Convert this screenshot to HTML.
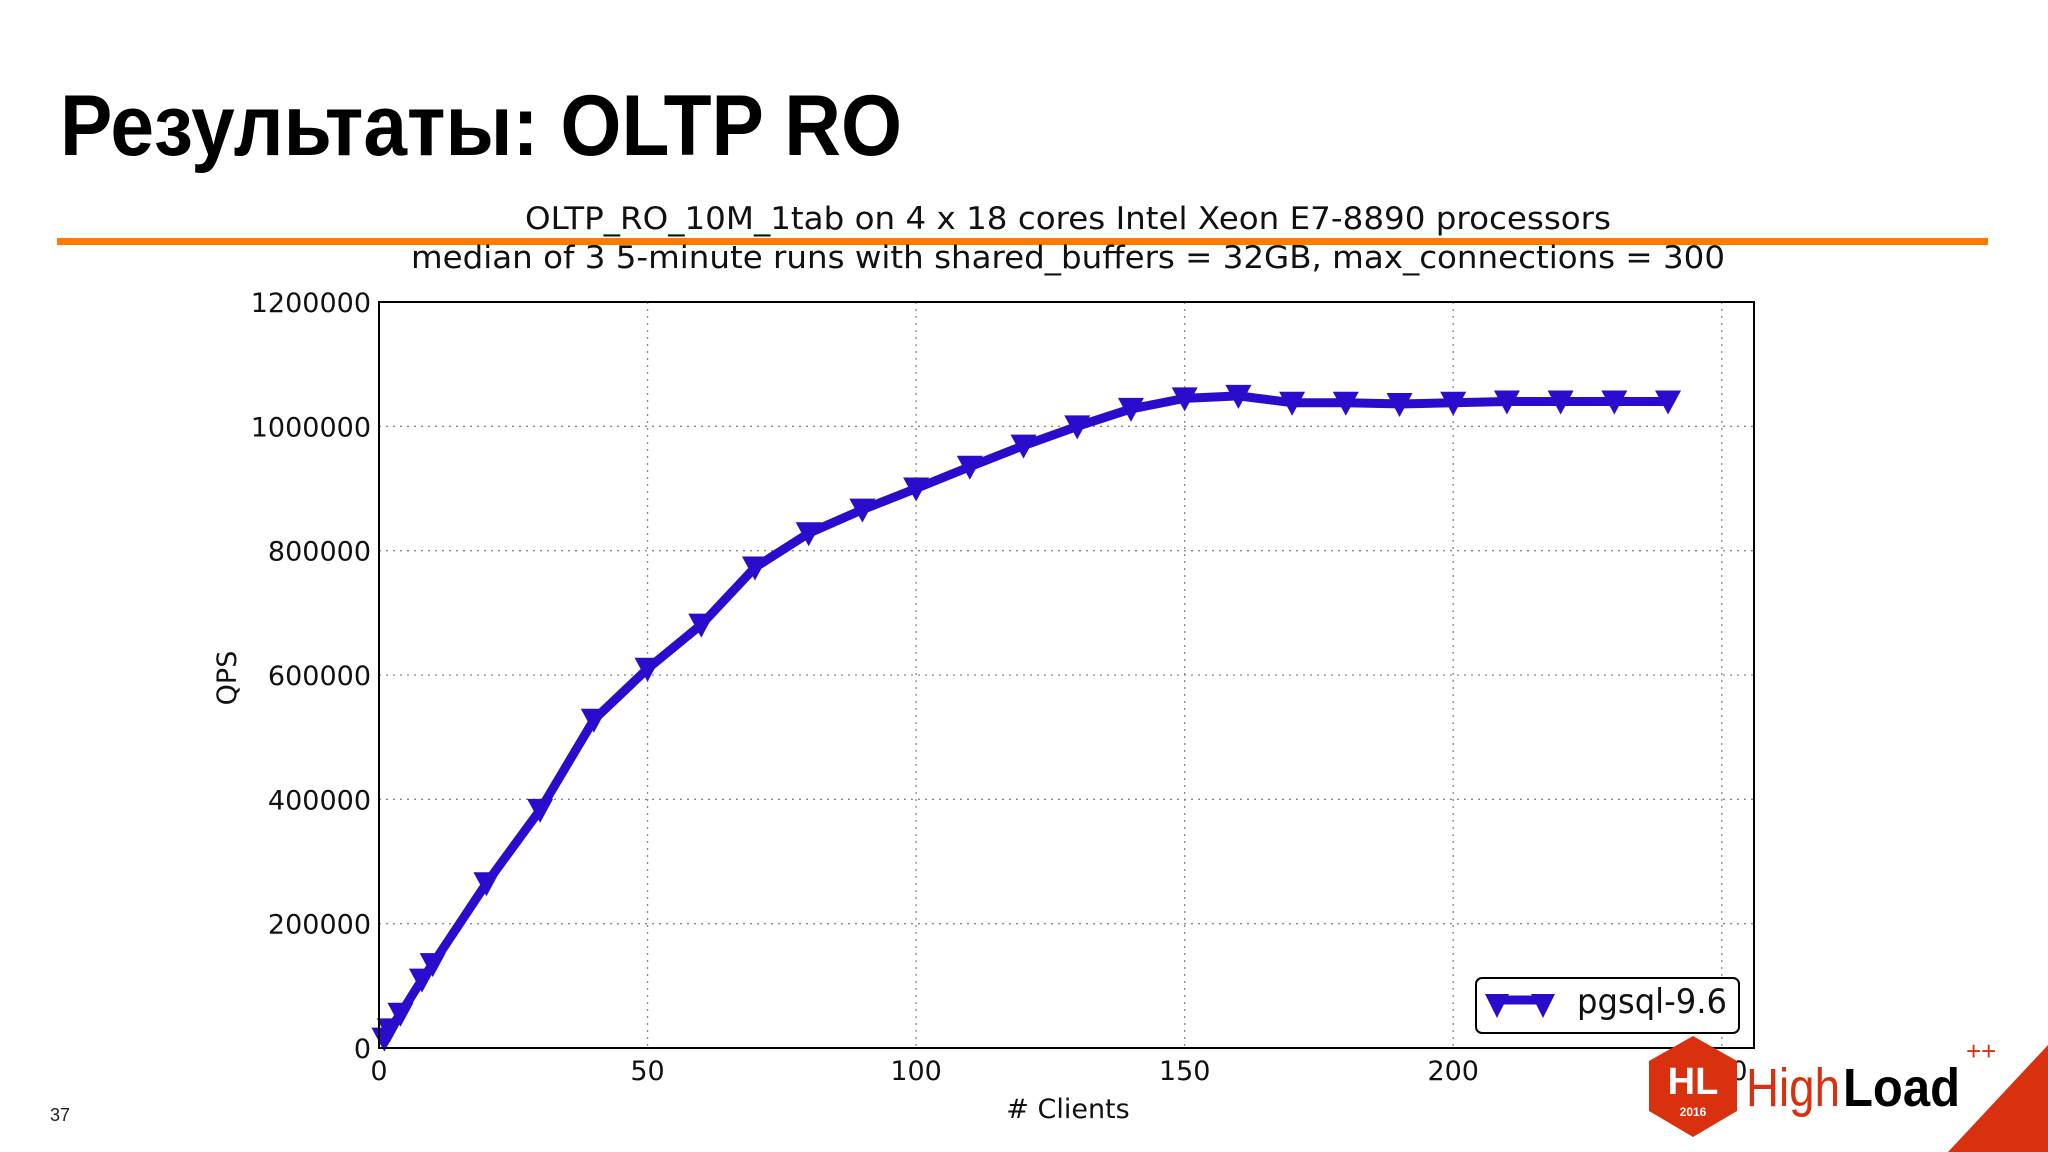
<!DOCTYPE html>
<html><head><meta charset="utf-8"><style>
html,body{margin:0;padding:0;background:#fff;}
svg{display:block;font-family:"Liberation Sans","DejaVu Sans",sans-serif;}
</style></head><body>
<svg id="chart" width="2048" height="1152" viewBox="0 0 2048 1152">
<text x="60" y="155" font-size="86" font-weight="bold" textLength="842" lengthAdjust="spacingAndGlyphs" fill="#000">Результаты: OLTP RO</text>
<rect x="57" y="238" width="1931" height="7" fill="#ff7b00"/>
<text x="1068" y="229" font-size="31" text-anchor="middle" fill="#111" font-family="DejaVu Sans, sans-serif" textLength="1086" lengthAdjust="spacingAndGlyphs">OLTP_RO_10M_1tab on 4 x 18 cores Intel Xeon E7-8890 processors</text>
<text x="1068" y="268" font-size="31" text-anchor="middle" fill="#111" font-family="DejaVu Sans, sans-serif" textLength="1314" lengthAdjust="spacingAndGlyphs">median of 3 5-minute runs with shared_buffers = 32GB, max_connections = 300</text>
<g id="grid"></g>
<g id="axes"></g>
<g id="series"></g>
<rect x="379" y="302" width="1375" height="746" fill="none" stroke="#000" stroke-width="2"/>
<text x="236" y="678" font-size="27" text-anchor="middle" fill="#111" font-family="DejaVu Sans, sans-serif" transform="rotate(-90 236 678)">QPS</text>
<text x="1068" y="1118" font-size="27" text-anchor="middle" fill="#111" font-family="DejaVu Sans, sans-serif"># Clients</text>
<g>
<rect x="1476" y="978" width="263" height="55" rx="6" fill="#fff" stroke="#000" stroke-width="2"/>
<line x1="1500" y1="1000" x2="1540" y2="1000" stroke="#2a0ccc" stroke-width="9"/>
<polygon points="1485,994 1509,994 1497,1018" fill="#2a0ccc"/>
<polygon points="1531,994 1555,994 1543,1018" fill="#2a0ccc"/>
<text x="1577" y="1013" font-size="34" fill="#111" font-family="DejaVu Sans, sans-serif" textLength="150" lengthAdjust="spacingAndGlyphs">pgsql-9.6</text>
</g>
<g>
<polygon points="1693,1036 1737,1061 1737,1111 1693,1137 1649,1111 1649,1061" fill="#d9300f"/>
<text x="1693" y="1094" font-size="38" font-weight="bold" fill="#fff" text-anchor="middle">HL</text>
<text x="1693" y="1116" font-size="12" font-weight="bold" fill="#fff" text-anchor="middle">2016</text>
<text x="1746" y="1106" font-size="54" fill="#d9300f" textLength="94" lengthAdjust="spacingAndGlyphs">High</text>
<text x="1843" y="1106" font-size="54" font-weight="bold" fill="#000" textLength="117" lengthAdjust="spacingAndGlyphs">Load</text>
<text x="1966" y="1060" font-size="26" fill="#d9300f">++</text>
</g>
<polygon points="1948,1152 2048,1045 2048,1152" fill="#d9300f"/>
<text x="50" y="1121" font-size="18" fill="#222">37</text>
</svg>
<script>
const clients = [1,2,4,8,10,20,30,40,50,60,70,80,90,100,110,120,130,140,150,160,170,180,190,200,210,220,230,240];
const qps = [15000,30000,55000,110000,135000,265000,383000,528000,610000,681000,773000,828000,866000,900000,935000,969000,1000000,1028000,1045000,1049000,1038000,1038000,1036000,1038000,1040000,1040000,1040000,1040000];
const xTicks = [0,50,100,150,200,250];
const yTicks = [0,200000,400000,600000,800000,1000000,1200000];
const NS = 'http://www.w3.org/2000/svg';
const X0=379, X1=1754, Y0=1048, Y1=302, XMAX=256, YMAX=1200000;
const sx = v => X0 + v/XMAX*(X1-X0);
const sy = v => Y0 - v/YMAX*(Y0-Y1);
function mk(tag, attrs, parent){const e=document.createElementNS(NS,tag);for(const k in attrs)e.setAttribute(k,attrs[k]);parent.appendChild(e);return e;}
const grid=document.getElementById('grid'), axes=document.getElementById('axes'), series=document.getElementById('series');
xTicks.forEach(t=>{
  const x=sx(t);
  const g=mk('line',{x1:x,x2:x,y1:Y1,y2:Y0,stroke:'#888','stroke-width':1.3,'stroke-dasharray':'2 5'},grid);
  
  
  const lb=mk('text',{x:x,y:1080,'font-size':27,'text-anchor':'middle',fill:'#111','font-family':'DejaVu Sans, sans-serif'},axes);
  lb.textContent=t;
  
  
});
yTicks.forEach(t=>{
  const y=sy(t);
  const g=mk('line',{x1:X0,x2:X1,y1:y,y2:y,stroke:'#888','stroke-width':1.3,'stroke-dasharray':'2 5'},grid);
  
  
  const lb=mk('text',{x:371,y:y+10,'font-size':27,'text-anchor':'end',fill:'#111','font-family':'DejaVu Sans, sans-serif'},axes);
  lb.textContent=t;
  
  
});
const pts=clients.map((c,i)=>sx(c)+','+sy(qps[i])).join(' ');
const line=mk('polyline',{points:pts,fill:'none',stroke:'#2a0ccc','stroke-width':9,'stroke-linejoin':'round'},series);


clients.forEach((c,i)=>{
  const x=sx(c), y=sy(qps[i]);
  const m=mk('polygon',{points:`${x-13},${y-11} ${x+13},${y-11} ${x},${y+13}`,fill:'#2a0ccc'},series);
  
  
});
</script>
</body></html>
